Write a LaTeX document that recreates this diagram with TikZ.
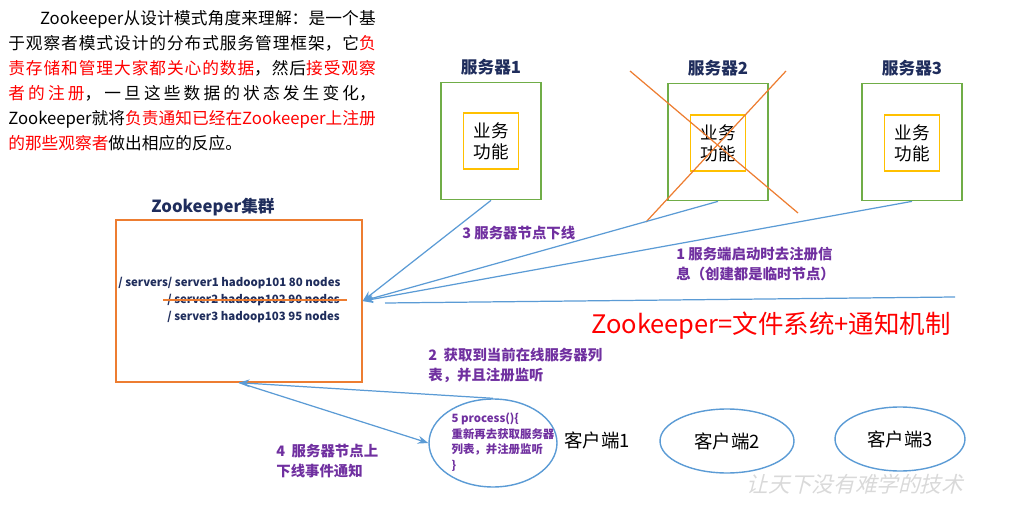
\documentclass[tikz,border=0pt]{standalone}
\usepackage{fontspec}
\setmainfont{Noto Sans CJK SC}
\newfontfamily\wmfont[FakeSlant=0.25]{Noto Sans CJK SC}
\usepackage{tikz}
\usetikzlibrary{arrows.meta,positioning,shapes.geometric}
\definecolor{zkorange}{HTML}{ED7D31}
\definecolor{zkgreen}{HTML}{70AD47}
\definecolor{zkyellow}{HTML}{FFC000}
\definecolor{zkblue}{HTML}{5B9BD5}
\definecolor{zknavy}{HTML}{1F2D5C}
\definecolor{zkpurple}{HTML}{7030A0}
\XeTeXlinebreaklocale "zh"
\XeTeXlinebreakskip=0pt plus 2pt

\begin{document}
\begin{tikzpicture}[x=0.02cm,y=-0.02cm,>={Stealth[length=6pt,width=4.5pt]},every node/.style={inner sep=0pt},
  srvbox/.style={draw=zkgreen,line width=1pt,minimum width=2cm,minimum height=2.34cm},
  bizbox/.style={draw=zkyellow,line width=1pt,minimum width=1.1cm,minimum height=1.12cm,align=center,font=\fontsize{10}{12}\selectfont},
  srvtitle/.style={font=\fontsize{9.5}{11}\selectfont\bfseries,text=zknavy},
  stepnote/.style={font=\fontsize{8.2}{11}\selectfont\bfseries,text=zkpurple,align=left},
  client/.style={draw=zkblue,ellipse,line width=.8pt,font=\fontsize{10.5}{12}\selectfont},
  wire/.style={zkblue,line width=.7pt},
  crossline/.style={zkorange,line width=.7pt}]
\useasboundingbox (0,0) rectangle (1015,517);
% intro text
\node[anchor=north west,text width=7.35cm,align=justify,font=\fontsize{9.5}{14.2}\selectfont] (intro) at (8,10) {\hspace*{1.9em}Zookeeper从设计模式角度来理解：是一个基\linebreak 于观察者模式设计的分布式服务管理框架，它\textcolor{red}{负}\linebreak \textcolor{red}{责存储和管理大家都关心的数据}，然后\textcolor{red}{接受观察}\linebreak \textcolor{red}{者的注册}，一旦这些数据的状态发生变化，\linebreak Zookeeper就将\textcolor{red}{负责通知已经在Zookeeper上注册}\linebreak \textcolor{red}{的那些观察者}做出相应的反应。};
% servers
\node[srvbox] (s1) at (491,141) {};
\node[srvbox] (s2) at (718,142) {};
\node[srvbox] (s3) at (912,142) {};
\node[bizbox] (b1) at (491,141) {业务\\功能};
\node[bizbox] (b2) at (718,143) {业务\\功能};
\node[bizbox] (b3) at (912,143) {业务\\功能};
\node[srvtitle,above=0.13cm of s1] (t1) {服务器1};
\node[srvtitle,above=0.13cm of s2] (t2) {服务器2};
\node[srvtitle,above=0.13cm of s3] (t3) {服务器3};
\draw[crossline] (630,71) -- (798,213);
\draw[crossline] (786,71) -- (646,222);
% zookeeper cluster
\node[draw=zkorange,line width=.8pt,minimum width=4.92cm,minimum height=3.24cm] (zk) at (239,301) {};
\node[srvtitle] (zkt) at (213,207) {Zookeeper集群};
\node[anchor=west,font=\fontsize{6.5}{8}\selectfont\bfseries,text=zknavy] (n1) at (118,283) {/ servers/ server1 hadoop101 80 nodes};
\node[anchor=west,font=\fontsize{6.5}{8}\selectfont\bfseries,text=zknavy] (n2) at (167,300) {/ server2 hadoop102 90 nodes};
\node[anchor=west,font=\fontsize{6.5}{8}\selectfont\bfseries,text=zknavy] (n3) at (167,317) {/ server3 hadoop103 95 nodes};
\draw[crossline] (163,300) -- (347,300);
% clients
\node[client,minimum width=2.56cm,minimum height=1.76cm] (c1) at (493,443) {};
\node[align=left,font=\fontsize{6.5}{8.8}\selectfont\bfseries,text=zkpurple] (p5) at (503,442) {5 process()\{\\重新再去获取服务器\\列表，并注册监听\\\}};
\node[font=\fontsize{10.5}{12}\selectfont] (c1t) at (597,440) {客户端1};
\node[client,minimum width=2.68cm,minimum height=1.28cm] (c2) at (727,441) {客户端2};
\node[client,minimum width=2.6cm,minimum height=1.28cm] (c3) at (900,439) {客户端3};
% notes
\node[stepnote,anchor=west] (l3) at (462,233) {3 服务器节点下线};
\node[stepnote,anchor=north west] (l1) at (676,247) {1 服务端启动时去注册信\\息（创建都是临时节点）};
\node[stepnote,anchor=north west] (l2) at (428,348) {2\ \ 获取到当前在线服务器列\\表，并且注册监听};
\node[stepnote,anchor=north west] (l4) at (276,444) {4\ \ 服务器节点上\\下线事件通知};
\node[font=\fontsize{14.5}{16}\selectfont,text=red] (eq) at (771,326) {Zookeeper=文件系统+通知机制};
\node[font=\fontsize{12.3}{14}\wmfont,text=black!15] (wm) at (855,484) {让天下没有难学的技术};
% connectors
\draw[wire,->] (s1.south) -- (zk.east);
\draw[wire,->] (s2.south) -- (zk.east);
\draw[wire,->] (s3.south) -- (zk.east);
\coordinate (sepL) at (385,303);
\coordinate (sepR) at (955,297);
\draw[wire] (sepL) -- (sepR);
\draw[wire,->] (c1.north) -- (zk.south);
\draw[wire,->] (zk.south) -- (c1.west);
\end{tikzpicture}
\end{document}
